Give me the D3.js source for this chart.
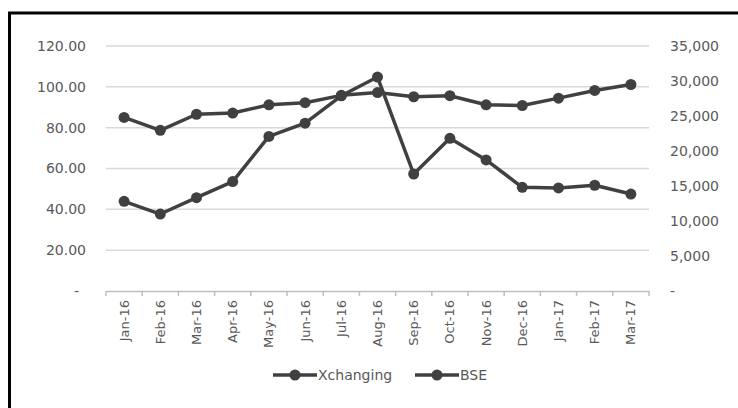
<!DOCTYPE html>
<html>
<head>
<meta charset="utf-8">
<script src="https://d3js.org/d3.v7.min.js"></script>
<style>
  body { margin: 0; background: #fff; }
  svg { display: block; font-family: "DejaVu Sans", sans-serif; }
  .tick-label { fill: #595959; font-size: 14px; }
</style>
</head>
<body>
<svg width="738" height="408"></svg>
<script>
const months = ['Jan-16','Feb-16','Mar-16','Apr-16','May-16','Jun-16','Jul-16','Aug-16',
  'Sep-16','Oct-16','Nov-16','Dec-16','Jan-17','Feb-17','Mar-17'];
const xchanging = [43.9, 37.7, 45.7, 53.6, 75.7, 82.2, 95.6, 104.8, 57.3, 74.8, 64.2, 50.8, 50.5, 51.8, 47.5];
const bse = [24800, 22950, 25250, 25420, 26600, 26900, 27950, 28350, 27750, 27900, 26600, 26500, 27550, 28650, 29500];
const leftTicks = [0, 20, 40, 60, 80, 100, 120];
const rightTicks = [0, 5000, 10000, 15000, 20000, 25000, 30000, 35000];

const svg = d3.select('svg');
const plotLeft = 106, plotRight = 649, plotTop = 46, plotBottom = 291;
const lineColor = '#404040';

const x = d3.scaleBand().domain(months).range([plotLeft, plotRight]);
const yL = d3.scaleLinear().domain([0, 120]).range([plotBottom, plotTop]);
const yR = d3.scaleLinear().domain([0, 35000]).range([plotBottom, plotTop]);

// frame
svg.append('path')
  .attr('d', 'M9.5,408 V13 H738')
  .attr('fill', 'none')
  .attr('stroke', '#000')
  .attr('stroke-width', 3);

// grid
svg.append('g').selectAll('line')
  .data(leftTicks.filter(d => d > 0))
  .join('line')
  .attr('x1', plotLeft).attr('x2', plotRight)
  .attr('y1', d => yL(d)).attr('y2', d => yL(d))
  .attr('stroke', '#d9d9d9').attr('stroke-width', 1.5);

// left labels
svg.append('g').selectAll('text')
  .data(leftTicks)
  .join('text')
  .attr('class', 'tick-label')
  .attr('x', d => d === 0 ? 79 : 86)
  .attr('y', d => yL(d))
  .attr('dy', '0.35em')
  .attr('text-anchor', 'end')
  .text(d => d === 0 ? '-' : d3.format('.2f')(d));

// right labels
svg.append('g').selectAll('text')
  .data(rightTicks)
  .join('text')
  .attr('class', 'tick-label')
  .attr('x', 670)
  .attr('y', d => yR(d))
  .attr('dy', '0.35em')
  .text(d => d === 0 ? '-' : d3.format(',')(d));

// x axis
const xAxis = svg.append('g')
  .attr('transform', `translate(0,${plotBottom})`)
  .call(d3.axisBottom(x).tickSize(0).tickFormat(''));
xAxis.select('.domain').attr('stroke', '#bfbfbf').attr('stroke-width', 1.5);
xAxis.selectAll('.tick').remove();
xAxis.selectAll('.bnd')
  .data(months.map(m => x(m)).concat([plotRight]))
  .join('line')
  .attr('x1', d => d).attr('x2', d => d)
  .attr('y1', 0).attr('y2', 5)
  .attr('stroke', '#bfbfbf').attr('stroke-width', 1.5);

svg.append('g').selectAll('text')
  .data(months)
  .join('text')
  .attr('class', 'tick-label')
  .style('font-size', '13px')
  .attr('text-anchor', 'end')
  .attr('transform', d => `translate(${x(d) + x.bandwidth() / 2},300) rotate(-90)`)
  .attr('dy', '0.35em')
  .text(d => d);

// series
function drawSeries(values, yScale) {
  const pts = values.map((v, i) => [x(months[i]) + x.bandwidth() / 2, yScale(v)]);
  svg.append('path')
    .attr('d', d3.line()(pts))
    .attr('fill', 'none')
    .attr('stroke', lineColor)
    .attr('stroke-width', 3.5)
    .attr('stroke-linejoin', 'round');
  svg.append('g').selectAll('circle')
    .data(pts)
    .join('circle')
    .attr('cx', d => d[0]).attr('cy', d => d[1])
    .attr('r', 5.5)
    .attr('fill', lineColor);
}
drawSeries(bse, yR);
drawSeries(xchanging, yL);

// legend
const legend = [
  { name: 'Xchanging', x0: 273 },
  { name: 'BSE', x0: 415 }
];
const lg = svg.append('g').selectAll('g')
  .data(legend)
  .join('g')
  .attr('transform', d => `translate(${d.x0},375)`);
lg.append('line')
  .attr('x1', 0).attr('x2', 44)
  .attr('stroke', lineColor).attr('stroke-width', 3.5);
lg.append('circle')
  .attr('cx', 22).attr('r', 5.5).attr('fill', lineColor);
lg.append('text')
  .attr('class', 'tick-label')
  .attr('x', 45)
  .attr('dy', '0.35em')
  .text(d => d.name);
</script>
</body>
</html>
